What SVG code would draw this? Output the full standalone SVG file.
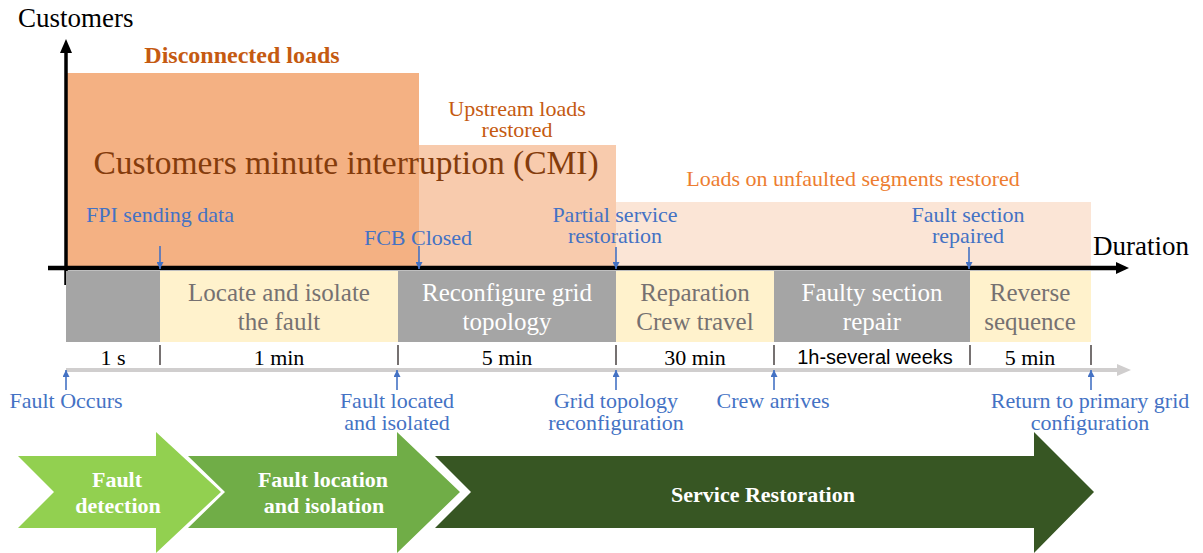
<svg xmlns="http://www.w3.org/2000/svg" width="1203" height="553" viewBox="0 0 1203 553">
<style>
  text { font-family: "Liberation Serif", "Times New Roman", serif; }
  .blue { fill: #4472C4; font-size: 22px; text-anchor: middle; }
  .bar-light { fill: #767171; font-size: 25px; text-anchor: middle; }
  .bar-dark { fill: #FFFFFF; font-size: 25px; text-anchor: middle; }
  .dur { fill: #000000; font-size: 22px; text-anchor: middle; }
  .chev { fill: #FFFFFF; font-size: 22px; font-weight: bold; text-anchor: middle; }
  .tick { stroke: #767171; stroke-width: 2; }
  .barrow { stroke: #4472C4; stroke-width: 1.6; fill: none; marker-end: url(#blueHead); }
</style>
<defs>
  <marker id="blueHead" viewBox="0 0 10 10" refX="10" refY="5" markerWidth="7" markerHeight="7" markerUnits="userSpaceOnUse" orient="auto">
    <path d="M0,0 L10,5 L0,10 z" fill="#4472C4"/>
  </marker>
</defs>

<g id="loads">
  <rect id="cmi-upstream" x="419" y="145" width="197" height="123" fill="#F8CBAD"/>
  <rect id="cmi-unfaulted" x="616" y="202" width="475" height="66" fill="#FBE5D6"/>
  <rect id="cmi-disconnected" x="67" y="73" width="352" height="195" fill="#F4B183"/>
  <text x="242" y="63" style="fill:#C55A11;font-size:24px;font-weight:bold" text-anchor="middle">Disconnected loads</text>
  <text x="517" y="116" style="fill:#C55A11;font-size:22px" text-anchor="middle">Upstream loads</text>
  <text x="517" y="137" style="fill:#C55A11;font-size:22px" text-anchor="middle">restored</text>
  <text x="346" y="174" style="fill:#843C0C;font-size:33.5px" text-anchor="middle">Customers minute interruption (CMI)</text>
  <text x="853" y="186" style="fill:#ED7D31;font-size:22px" text-anchor="middle">Loads on unfaulted segments restored</text>
</g>

<g id="axes">
  <line x1="66" y1="285" x2="66" y2="50" stroke="#000" stroke-width="3.5"/>
  <path d="M66,39 L72,53 L60,53 z" fill="#000"/>
  <line x1="48" y1="268" x2="1118" y2="268" stroke="#000" stroke-width="4.5"/>
  <path d="M1129,268 L1116,262 L1116,274 z" fill="#000"/>
  <text x="18" y="27" style="font-size:27px;fill:#000">Customers</text>
  <text x="1093" y="255" style="font-size:27px;fill:#000">Duration</text>
</g>

<g id="top-events">
  <text class="blue" x="160" y="222">FPI sending data</text>
  <text class="blue" x="418" y="245">FCB Closed</text>
  <text class="blue" x="615" y="222">Partial service</text>
  <text class="blue" x="615" y="243">restoration</text>
  <text class="blue" x="968" y="222">Fault section</text>
  <text class="blue" x="968" y="243">repaired</text>
</g>

<g id="bars">
  <g id="bar-detect"><rect x="66" y="271" width="94" height="71" fill="#A5A5A5"/></g>
  <g id="bar-locate"><rect x="160" y="271" width="238" height="71" fill="#FFF2CC"/>
    <text class="bar-light" x="279" y="301">Locate and isolate</text>
    <text class="bar-light" x="279" y="330">the fault</text></g>
  <g id="bar-reconfigure"><rect x="398" y="271" width="218" height="71" fill="#A5A5A5"/>
    <text class="bar-dark" x="507" y="301">Reconfigure grid</text>
    <text class="bar-dark" x="507" y="330">topology</text></g>
  <g id="bar-crew"><rect x="616" y="271" width="158" height="71" fill="#FFF2CC"/>
    <text class="bar-light" x="695" y="301">Reparation</text>
    <text class="bar-light" x="695" y="330">Crew travel</text></g>
  <g id="bar-repair"><rect x="774" y="271" width="196" height="71" fill="#A5A5A5"/>
    <text class="bar-dark" x="872" y="301">Faulty section</text>
    <text class="bar-dark" x="872" y="330">repair</text></g>
  <g id="bar-reverse"><rect x="970" y="271" width="121" height="71" fill="#FFF2CC"/>
    <text class="bar-light" x="1030" y="301">Reverse</text>
    <text class="bar-light" x="1030" y="330">sequence</text></g>
</g>

<g id="durations">
  <text class="dur" x="113" y="365">1 s</text>
  <text class="dur" x="279" y="365">1 min</text>
  <text class="dur" x="507" y="365">5 min</text>
  <text class="dur" x="695" y="365">30 min</text>
  <text class="dur" x="875" y="364" style="font-family:'Liberation Sans',Arial,sans-serif;font-size:20px">1h-several weeks</text>
  <text class="dur" x="1030" y="365">5 min</text>
  <line class="tick" x1="160" y1="345" x2="160" y2="365"/>
  <line class="tick" x1="398" y1="345" x2="398" y2="365"/>
  <line class="tick" x1="616" y1="345" x2="616" y2="365"/>
  <line class="tick" x1="774" y1="345" x2="774" y2="365"/>
  <line class="tick" x1="970" y1="345" x2="970" y2="365"/>
  <line class="tick" x1="1091" y1="345" x2="1091" y2="365"/>
  <line x1="66" y1="370" x2="1120" y2="370" stroke="#D0CECE" stroke-width="4"/>
  <path d="M1131,370 L1117,364 L1117,376 z" fill="#D0CECE"/>
</g>

<g id="bottom-events">
  <text class="blue" x="66" y="408">Fault Occurs</text>
  <text class="blue" x="397" y="408">Fault located</text>
  <text class="blue" x="397" y="430">and isolated</text>
  <text class="blue" x="616" y="408">Grid topology</text>
  <text class="blue" x="616" y="430">reconfiguration</text>
  <text class="blue" x="773" y="408">Crew arrives</text>
  <text class="blue" x="1090" y="408">Return to primary grid</text>
  <text class="blue" x="1090" y="430">configuration</text>
</g>

<g id="connectors">
  <line class="barrow" x1="160" y1="246" x2="160" y2="269"/>
  <line class="barrow" x1="419" y1="246" x2="419" y2="269"/>
  <line class="barrow" x1="616" y1="247" x2="616" y2="269"/>
  <line class="barrow" x1="969" y1="247" x2="969" y2="269"/>
  <line class="barrow" x1="66" y1="390" x2="66" y2="370"/>
  <line class="barrow" x1="397" y1="390" x2="397" y2="370"/>
  <line class="barrow" x1="616" y1="390" x2="616" y2="370"/>
  <line class="barrow" x1="774" y1="390" x2="774" y2="370"/>
  <line class="barrow" x1="1091" y1="390" x2="1091" y2="370"/>
</g>

<g id="phase-detection">
  <path d="M18,456 L156,456 L156,432 L221,492 L156,553 L156,528 L18,528 L54,492 z" fill="#92D050"/>
  <text class="chev" x="117" y="487">Fault</text>
  <text class="chev" x="118" y="513">detection</text>
</g>
<g id="phase-location">
  <path d="M188,456 L397,456 L397,432 L460,492 L397,553 L397,528 L188,528 L225,492 z" fill="#70AD47"/>
  <text class="chev" x="323" y="487">Fault location</text>
  <text class="chev" x="324" y="513">and isolation</text>
</g>
<g id="phase-restoration">
  <path d="M435,456 L1034,456 L1034,432 L1094,492 L1034,553 L1034,528 L435,528 L471,492 z" fill="#375623"/>
  <text class="chev" x="763" y="502">Service Restoration</text>
</g>
</svg>
